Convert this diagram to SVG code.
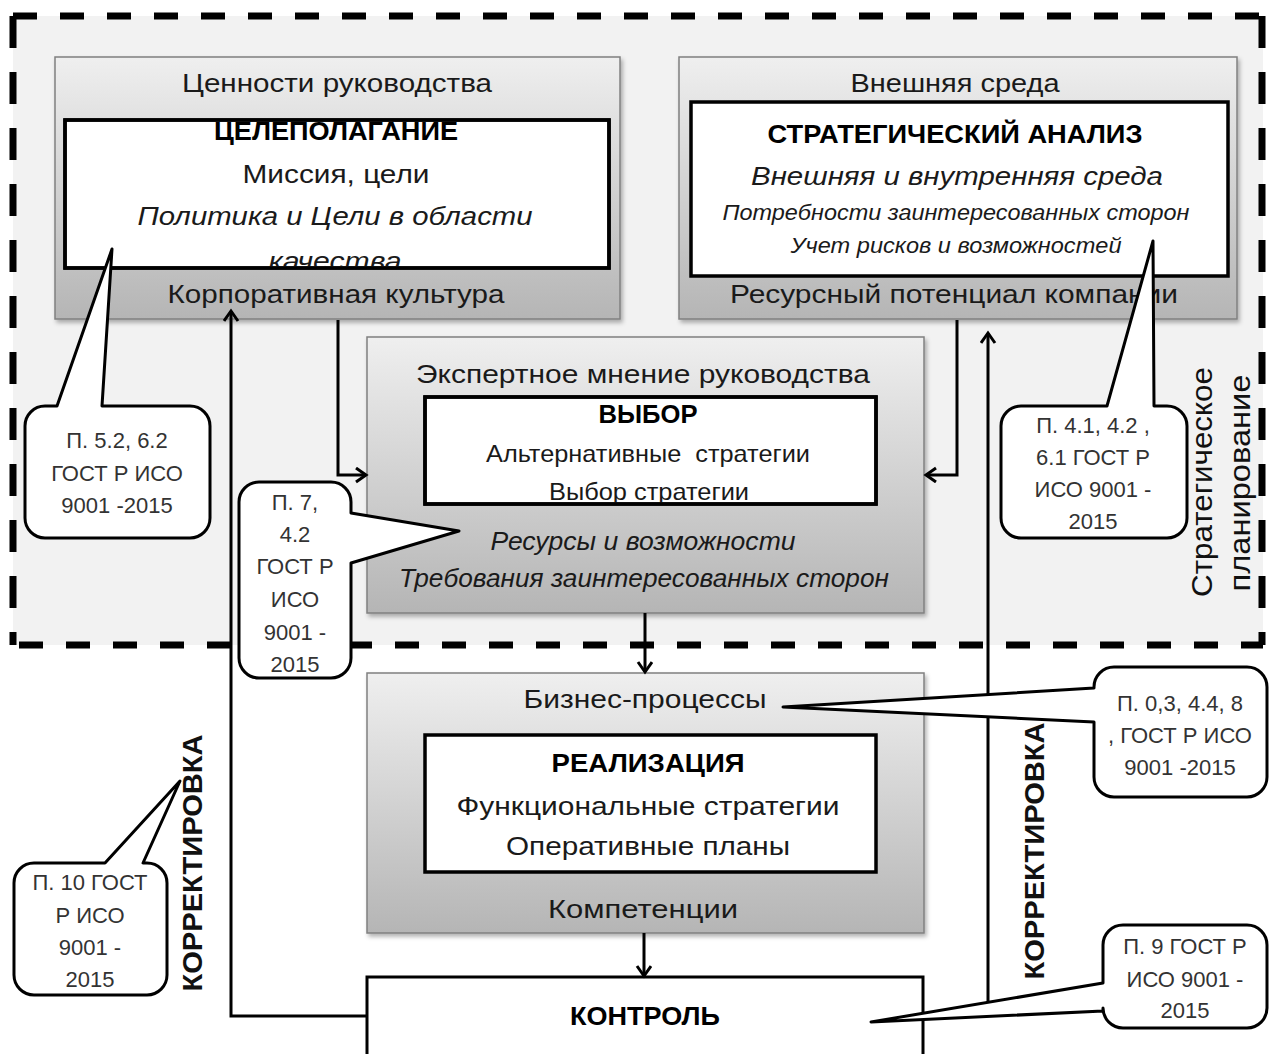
<svg xmlns="http://www.w3.org/2000/svg" width="1276" height="1054" viewBox="0 0 1276 1054">
  <defs>
    <style>
      text { font-family: "Liberation Sans", Arial, sans-serif; fill: #1a1a1a; text-anchor: middle; }
      .lbl { font-size: 26px; }
      .ttl { font-size: 26px; font-weight: bold; fill: #000; }
      .it { font-style: italic; }
      .call { font-size: 22px; fill: #333; }
      .vert { font-size: 28px; font-weight: bold; fill: #111; }
      .plan { font-size: 29px; fill: #111; }
      .gray { fill: url(#shade); stroke: #808080; stroke-width: 1.5; filter: url(#shadow); }
      .inner { fill: #fff; stroke: #000; stroke-width: 3.5; }
      .frame { stroke: #000; stroke-width: 7; fill: none; }
      .conn { fill: none; stroke: #000; stroke-width: 3; }
      .bubble { fill: #fff; stroke: #000; stroke-width: 3; stroke-linejoin: round; }
    </style>
    <linearGradient id="shade" x1="0" y1="0" x2="0" y2="1">
      <stop offset="0" stop-color="#efefef"/>
      <stop offset="1" stop-color="#b5b5b5"/>
    </linearGradient>
    <filter id="shadow" x="-5%" y="-5%" width="110%" height="115%">
      <feDropShadow dx="2" dy="3" stdDeviation="2" flood-color="#000" flood-opacity="0.3"/>
    </filter>
    <marker id="arrow" markerUnits="userSpaceOnUse" markerWidth="14" markerHeight="18" refX="11" refY="8" orient="auto">
      <path d="M1,1 L11,8 L1,15" fill="none" stroke="#000" stroke-width="3"/>
    </marker>
    <clipPath id="clipGoal"><rect x="66.75" y="121.75" width="540.5" height="144.5"/></clipPath>
    <clipPath id="clipChoice"><rect x="426.75" y="398.75" width="447.5" height="103.5"/></clipPath>
  </defs>

  <!-- strategic planning zone -->
  <rect x="13" y="16" width="1250" height="629" fill="#f2f2f2"/>
  <g id="planning-frame">
    <line class="frame" x1="13" y1="16" x2="1263" y2="16" stroke-dasharray="24 23"/>
    <line class="frame" x1="13" y1="645" x2="1263" y2="645" stroke-dasharray="24 23" stroke-dashoffset="-6"/>
    <line class="frame" x1="13" y1="16" x2="13" y2="645" stroke-dasharray="32 24"/>
    <line class="frame" x1="1262" y1="16" x2="1262" y2="645" stroke-dasharray="32 24"/>
  </g>

  <!-- goal setting -->
  <g id="goal-setting">
    <rect class="gray" x="55" y="57" width="565" height="262"/>
    <text class="lbl" x="337" y="92" textLength="310" lengthAdjust="spacingAndGlyphs">Ценности руководства</text>
    <rect class="inner" x="65" y="120" width="544" height="148"/>
    <g clip-path="url(#clipGoal)">
      <text class="ttl" x="336" y="140" textLength="244" lengthAdjust="spacingAndGlyphs">ЦЕЛЕПОЛАГАНИЕ</text>
      <text class="lbl" x="336" y="183" textLength="187" lengthAdjust="spacingAndGlyphs">Миссия, цели</text>
      <text class="lbl it" x="335" y="225" textLength="395" lengthAdjust="spacingAndGlyphs">Политика и Цели в области</text>
      <text class="lbl it" x="335" y="270" textLength="133" lengthAdjust="spacingAndGlyphs">качества</text>
    </g>
    <rect x="65" y="120" width="544" height="148" fill="none" stroke="#000" stroke-width="3.5"/>
    <text class="lbl" x="336" y="303" textLength="337" lengthAdjust="spacingAndGlyphs">Корпоративная культура</text>
  </g>

  <!-- strategic analysis -->
  <g id="strategic-analysis">
    <rect class="gray" x="679" y="57" width="558" height="262"/>
    <text class="lbl" x="955" y="92" textLength="209" lengthAdjust="spacingAndGlyphs">Внешняя среда</text>
    <rect class="inner" x="691" y="102" width="537" height="174"/>
    <text class="ttl" x="955" y="143" textLength="375" lengthAdjust="spacingAndGlyphs">СТРАТЕГИЧЕСКИЙ АНАЛИЗ</text>
    <text class="lbl it" x="957" y="185" textLength="412" lengthAdjust="spacingAndGlyphs">Внешняя и внутренняя среда</text>
    <text class="it" x="956" y="220" style="font-size:22px" textLength="467" lengthAdjust="spacingAndGlyphs">Потребности заинтересованных сторон</text>
    <text class="it" x="956" y="253" style="font-size:22px" textLength="331" lengthAdjust="spacingAndGlyphs">Учет рисков и возможностей</text>
    <text class="lbl" x="954" y="303" textLength="448" lengthAdjust="spacingAndGlyphs">Ресурсный потенциал компании</text>
  </g>

  <!-- choice -->
  <g id="choice">
    <rect class="gray" x="367" y="337" width="557" height="276"/>
    <text class="lbl" x="643" y="383" textLength="454" lengthAdjust="spacingAndGlyphs">Экспертное мнение руководства</text>
    <rect class="inner" x="425" y="397" width="451" height="107"/>
    <g clip-path="url(#clipChoice)">
      <text class="ttl" x="648" y="423" textLength="99" lengthAdjust="spacingAndGlyphs">ВЫБОР</text>
      <text x="648" y="462" style="font-size:24px" textLength="324" lengthAdjust="spacingAndGlyphs">Альтернативные&#160; стратегии</text>
      <text x="649" y="500" style="font-size:24px" textLength="200" lengthAdjust="spacingAndGlyphs">Выбор стратегии</text>
    </g>
    <rect x="425" y="397" width="451" height="107" fill="none" stroke="#000" stroke-width="3.5"/>
    <text class="lbl it" x="643" y="550" textLength="305" lengthAdjust="spacingAndGlyphs">Ресурсы и возможности</text>
    <text class="lbl it" x="644" y="587" textLength="490" lengthAdjust="spacingAndGlyphs">Требования заинтересованных сторон</text>
  </g>

  <!-- implementation -->
  <g id="implementation">
    <rect class="gray" x="367" y="673" width="557" height="260"/>
    <text class="lbl" x="645" y="708" textLength="243" lengthAdjust="spacingAndGlyphs">Бизнес-процессы</text>
    <rect class="inner" x="425" y="735" width="451" height="137"/>
    <text class="ttl" x="648" y="772" textLength="193" lengthAdjust="spacingAndGlyphs">РЕАЛИЗАЦИЯ</text>
    <text class="lbl" x="648" y="815" textLength="383" lengthAdjust="spacingAndGlyphs">Функциональные стратегии</text>
    <text class="lbl" x="648" y="855" textLength="284" lengthAdjust="spacingAndGlyphs">Оперативные планы</text>
    <text class="lbl" x="643" y="918" textLength="190" lengthAdjust="spacingAndGlyphs">Компетенции</text>
  </g>

  <!-- control -->
  <g id="control">
    <rect x="367" y="977" width="556" height="90" fill="#fff" stroke="#000" stroke-width="3"/>
    <text class="ttl" x="645" y="1025" textLength="150" lengthAdjust="spacingAndGlyphs">КОНТРОЛЬ</text>
  </g>

  <!-- connectors -->
  <g id="connectors">
    <path class="conn" d="M367,1016 H231 V311" marker-end="url(#arrow)"/>
    <path class="conn" d="M338,320 V475 H366" marker-end="url(#arrow)"/>
    <path class="conn" d="M957,320 V475 H926" marker-end="url(#arrow)"/>
    <path class="conn" d="M988,1010 V333" marker-end="url(#arrow)"/>
    <path class="conn" d="M645,613 V672" marker-end="url(#arrow)"/>
    <path class="conn" d="M644,933 V976" marker-end="url(#arrow)"/>
  </g>

  <!-- standard references -->
  <g id="ref-5-2">
    <path class="bubble" d="M45,406 H57 L112,249 L102,406 H190 A20,20 0 0 1 210,426 V518 A20,20 0 0 1 190,538 H45 A20,20 0 0 1 25,518 V426 A20,20 0 0 1 45,406 Z"/>
    <text class="call" x="117" y="448">П. 5.2, 6.2</text>
    <text class="call" x="117" y="481">ГОСТ Р ИСО</text>
    <text class="call" x="117" y="513">9001 -2015</text>
  </g>
  <g id="ref-7">
    <path class="bubble" d="M259,482 H331 A20,20 0 0 1 351,502 V513 L459,531 L351,563 V658 A20,20 0 0 1 331,678 H259 A20,20 0 0 1 239,658 V502 A20,20 0 0 1 259,482 Z"/>
    <text class="call" x="295" y="510">П. 7,</text>
    <text class="call" x="295" y="542">4.2</text>
    <text class="call" x="295" y="574">ГОСТ Р</text>
    <text class="call" x="295" y="607">ИСО</text>
    <text class="call" x="295" y="640">9001 -</text>
    <text class="call" x="295" y="672">2015</text>
  </g>
  <g id="ref-4-1">
    <path class="bubble" d="M1021,406 H1107 L1153,241 L1154,406 H1167 A20,20 0 0 1 1187,426 V518 A20,20 0 0 1 1167,538 H1021 A20,20 0 0 1 1001,518 V426 A20,20 0 0 1 1021,406 Z"/>
    <text class="call" x="1093" y="433">П. 4.1, 4.2 ,</text>
    <text class="call" x="1093" y="465">6.1 ГОСТ Р</text>
    <text class="call" x="1093" y="497">ИСО 9001 -</text>
    <text class="call" x="1093" y="529">2015</text>
  </g>
  <g id="ref-0-3">
    <path class="bubble" d="M1114,667 H1247 A20,20 0 0 1 1267,687 V777 A20,20 0 0 1 1247,797 H1114 A20,20 0 0 1 1094,777 V722 L783,707 L1094,688 V687 A20,20 0 0 1 1114,667 Z"/>
    <text class="call" x="1180" y="711">П. 0,3, 4.4, 8</text>
    <text class="call" x="1180" y="743">, ГОСТ Р ИСО</text>
    <text class="call" x="1180" y="775">9001 -2015</text>
  </g>
  <g id="ref-9">
    <path class="bubble" d="M1123,925 H1247 A20,20 0 0 1 1267,945 V1008 A20,20 0 0 1 1247,1028 H1123 A20,20 0 0 1 1103,1008 V1011 L871,1022 L1103,983 V945 A20,20 0 0 1 1123,925 Z"/>
    <text class="call" x="1185" y="954">П. 9 ГОСТ Р</text>
    <text class="call" x="1185" y="987">ИСО 9001 -</text>
    <text class="call" x="1185" y="1018">2015</text>
  </g>
  <g id="ref-10">
    <path class="bubble" d="M34,863 H105 L180,781 L143,863 H147 A20,20 0 0 1 167,883 V975 A20,20 0 0 1 147,995 H34 A20,20 0 0 1 14,975 V883 A20,20 0 0 1 34,863 Z"/>
    <text class="call" x="90" y="890">П. 10 ГОСТ</text>
    <text class="call" x="90" y="923">Р ИСО</text>
    <text class="call" x="90" y="955">9001 -</text>
    <text class="call" x="90" y="987">2015</text>
  </g>

  <!-- side captions -->
  <text class="vert" transform="translate(202,863) rotate(-90)" textLength="257" lengthAdjust="spacingAndGlyphs">КОРРЕКТИРОВКА</text>
  <text class="vert" transform="translate(1044,851) rotate(-90)" textLength="257" lengthAdjust="spacingAndGlyphs">КОРРЕКТИРОВКА</text>
  <text class="plan" transform="translate(1212,482) rotate(-90)" textLength="230" lengthAdjust="spacingAndGlyphs">Стратегическое</text>
  <text class="plan" transform="translate(1250,483) rotate(-90)" textLength="217" lengthAdjust="spacingAndGlyphs">планирование</text>
</svg>
